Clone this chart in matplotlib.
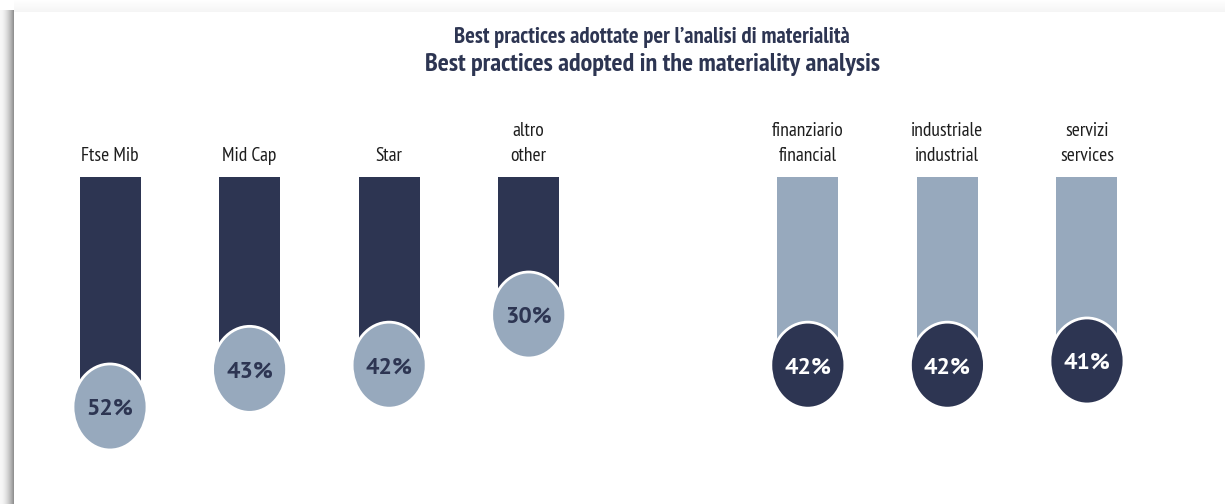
import matplotlib
matplotlib.use("Agg")
import matplotlib.pyplot as plt
from matplotlib.patches import Ellipse, Rectangle

#######################################################
# data
#######################################################

title_it = "Best practices adottate per l\u2019analisi di materialità"
title_en = "Best practices adopted in the materiality analysis"

labels = ["Ftse Mib", "Mid Cap", "Star", "altro\nother",
          "finanziario\nfinancial", "industriale\nindustrial", "servizi\nservices"]
values = [52, 43, 42, 30, 42, 42, 41]
positions = [0, 1, 2, 3, 5, 6, 7]          # gap between the two groups
group = ["market", "market", "market", "market", "sector", "sector", "sector"]

#######################################################
# style
#######################################################

dark = "#2d3552"
light = "#97a9bd"
bar_color = {"market": dark, "sector": light}
dot_color = {"market": light, "sector": dark}
txt_color = {"market": dark, "sector": "white"}

label_font = ["PT Sans Narrow", "DejaVu Sans"]
num_font = ["PT Sans", "DejaVu Sans"]

W, H = 1225, 504
fig = plt.figure(figsize=(W / 100, H / 100), dpi=100)
fig.patch.set_facecolor("white")

# card shadow on the left and top edges
for i in range(14):
    g = 0.97 - 0.40 * (i / 13) ** 1.8
    fig.patches.append(Rectangle((i / W, 0), 1 / W, 1 - 10 / H, transform=fig.transFigure,
                                 facecolor=(g, g, g), edgecolor="none", zorder=0))
for j in range(12):
    g = 0.995 - 0.035 * (j / 11)
    fig.patches.append(Rectangle((14 / W, 1 - (j + 1) / H), 1, 1 / H, transform=fig.transFigure,
                                 facecolor=(g, g, g), edgecolor="none", zorder=0))

ax = fig.add_axes([0, 0, 1, 1])
ax.set_facecolor("none")
ax.axis("off")

# x: 139.57 px per slot, first slot centred at 110 px
xscale = 139.57
ax.set_xlim(-110 / xscale, (W - 110) / xscale)
# y: value v sits at 189.6 + 4.18 v pixels from the top
ya, yb = 4.18, 189.6
ax.set_ylim((H - yb) / ya, -yb / ya)

bar_top = -3.0
bar_w = 61 / xscale
dot_w = 74 / xscale
dot_h = 86 / ya

for x, v, lab, g in zip(positions, values, labels, group):
    ax.add_patch(Rectangle((x - bar_w / 2, bar_top), bar_w, v - bar_top,
                           facecolor=bar_color[g], edgecolor="none", zorder=2))
    ax.add_patch(Ellipse((x, v), dot_w, dot_h, facecolor=dot_color[g],
                         edgecolor="white", linewidth=2, zorder=3))
    ax.text(x, v + 0.6, f"{v}%", ha="center", va="center", fontsize=17,
            fontweight="bold", family=num_font, color=txt_color[g], zorder=4)
    ax.text(x, -5.8, lab, ha="center", va="bottom", fontsize=14,
            family=label_font, color="#1e1e1e", linespacing=1.5, zorder=4)

fig.text(652 / W, 1 - 37 / H, title_it, ha="center", va="center", fontsize=16.3,
         fontweight="bold", family=label_font, color=dark)
fig.text(652 / W, 1 - 64 / H, title_en, ha="center", va="center", fontsize=18.8,
         fontweight="bold", family=label_font, color=dark)

fig.savefig("out.png", dpi=100)
